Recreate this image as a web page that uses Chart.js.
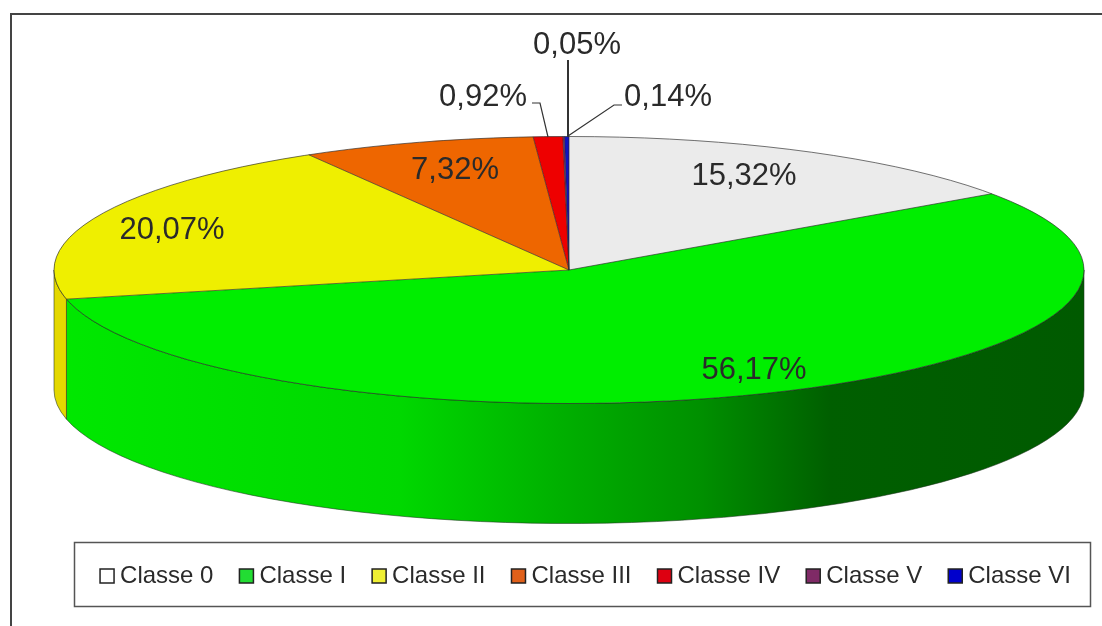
<!DOCTYPE html>
<html>
<head>
<meta charset="utf-8">
<style>html,body{margin:0;padding:0;background:#fff}canvas{display:block}</style>
<script src="https://cdn.jsdelivr.net/npm/chart.js@4"></script>
</head>
<body>
<canvas id="c" width="1102" height="626" style="width:1102px;height:626px"></canvas>
<script>
const categories = ['Classe 0','Classe I','Classe II','Classe III','Classe IV','Classe V','Classe VI'];
const shares = [15.32,56.17,20.07,7.32,0.92,0.05,0.14];
const sliceColors = ['#ebebeb','#00ee00','#efef00','#ee6600','#ee0000','#7f2a66','#1212c0'];
const legendColors = ['#ffffff','#22dd33','#efef33','#e0601a','#dd0011','#7f2a66','#0000cc'];

// Projection of the disc on the page
const disc = {cx:569, cy:270, rx:515, ry:133.5, depth:120};
const font = '"Liberation Sans", Arial, sans-serif';
// Where each percentage is written, and its leader line
const labelCentres = [[744,176],[754,370],[172,230],[455,170],[483,97],[577,45],[668,97]];
const leaders = [null,null,null,null,[[532,103],[540,103],[548,137]],[[568,60],[568,137]],[[622,105],[614,105],[568,136]]];

function wallFill(ctx, i){
  if(i===1){
    const g = ctx.createLinearGradient(disc.cx-disc.rx,0,disc.cx+disc.rx,0);
    const w = 2*disc.rx, x0 = disc.cx-disc.rx;
    [[54,'#00e800'],[400,'#00d800'],[560,'#00b000'],[700,'#009000'],[830,'#005f00'],[1084,'#005a00']]
      .forEach(s=>g.addColorStop((s[0]-x0)/w,s[1]));
    return g;
  }
  return i===2 ? '#e4d800' : sliceColors[i];
}
const pie3d = {
  id:'pie3d',
  beforeDraw(chart){
    const ctx = chart.ctx;
    ctx.save();
    ctx.fillStyle='#fff';ctx.fillRect(0,0,1102,626);
    ctx.strokeStyle='#444';ctx.lineWidth=2;
    ctx.beginPath();ctx.moveTo(11,626);ctx.lineTo(11,14);ctx.lineTo(1102,14);ctx.stroke();
    ctx.strokeStyle='#555';ctx.lineWidth=1.5;
    ctx.strokeRect(74.5,542.5,1016,64);
    ctx.restore();
  },
  beforeDatasetsDraw(chart){
    const ctx = chart.ctx, arcs = chart.getDatasetMeta(0).data;
    ctx.save();
    arcs.forEach((a,i)=>{
      const s = Math.max(a.startAngle,0), e = Math.min(a.endAngle,Math.PI);
      if(e<=s) return;
      ctx.beginPath();
      ctx.ellipse(disc.cx,disc.cy,disc.rx,disc.ry,0,s,e);
      ctx.ellipse(disc.cx,disc.cy+disc.depth,disc.rx,disc.ry,0,e,s,true);
      ctx.closePath();
      ctx.fillStyle = wallFill(ctx,i);
      ctx.fill();
      ctx.strokeStyle='rgba(30,50,30,.55)';ctx.lineWidth=1;ctx.stroke();
    });
    ctx.restore();
  },
  beforeDatasetDraw(chart){
    const a = chart.getDatasetMeta(0).data[0], ctx = chart.ctx, R = a.outerRadius;
    ctx.save();
    ctx.translate(disc.cx,disc.cy);
    ctx.scale(disc.rx/R,disc.ry/R);
    ctx.translate(-a.x,-a.y);
  },
  afterDatasetDraw(chart){
    chart.ctx.restore();
  },
  afterDatasetsDraw(chart){
    const ctx = chart.ctx, arcs = chart.getDatasetMeta(0).data;
    ctx.save();
    ctx.strokeStyle='rgba(40,40,40,.65)';ctx.lineWidth=1;
    ctx.beginPath();ctx.ellipse(disc.cx,disc.cy,disc.rx,disc.ry,0,0,2*Math.PI);ctx.stroke();
    arcs.forEach(a=>{
      ctx.beginPath();ctx.moveTo(disc.cx,disc.cy);
      ctx.lineTo(disc.cx+disc.rx*Math.cos(a.startAngle),disc.cy+disc.ry*Math.sin(a.startAngle));
      ctx.stroke();
    });
    ctx.strokeStyle='#333';
    leaders.forEach((l,i)=>{
      if(!l) return;
      ctx.lineWidth = i===5 ? 2 : 1.2;
      ctx.beginPath();
      l.forEach((p,j)=> j?ctx.lineTo(p[0],p[1]):ctx.moveTo(p[0],p[1]));
      ctx.stroke();
    });
    ctx.fillStyle='#2a2a2a';ctx.font='31px '+font;ctx.textAlign='center';ctx.textBaseline='middle';
    shares.forEach((v,i)=>{
      ctx.fillText(v.toFixed(2).replace('.',',')+'%',labelCentres[i][0],labelCentres[i][1]);
    });
    ctx.restore();
  }
};
new Chart(document.getElementById('c'),{
  type:'pie',
  data:{labels:categories,datasets:[{data:shares,backgroundColor:sliceColors,borderWidth:0,clip:false}]},
  options:{
    responsive:false,animation:false,devicePixelRatio:1,
    layout:{padding:{left:65,right:-10,bottom:28}},
    plugins:{
      tooltip:{enabled:false},
      legend:{
        position:'bottom',
        labels:{
          color:'#2a2a2a',font:{family:font,size:24},
          usePointStyle:true,pointStyle:'rect',boxWidth:2,boxHeight:14,padding:32,
          generateLabels(){
            return categories.map((t,i)=>({text:t,fillStyle:legendColors[i],strokeStyle:'#222',lineWidth:1.5,pointStyle:'rect',hidden:false,index:i,fontColor:'#2a2a2a'}));
          }
        }
      }
    }
  },
  plugins:[pie3d]
});
</script>
</body>
</html>
